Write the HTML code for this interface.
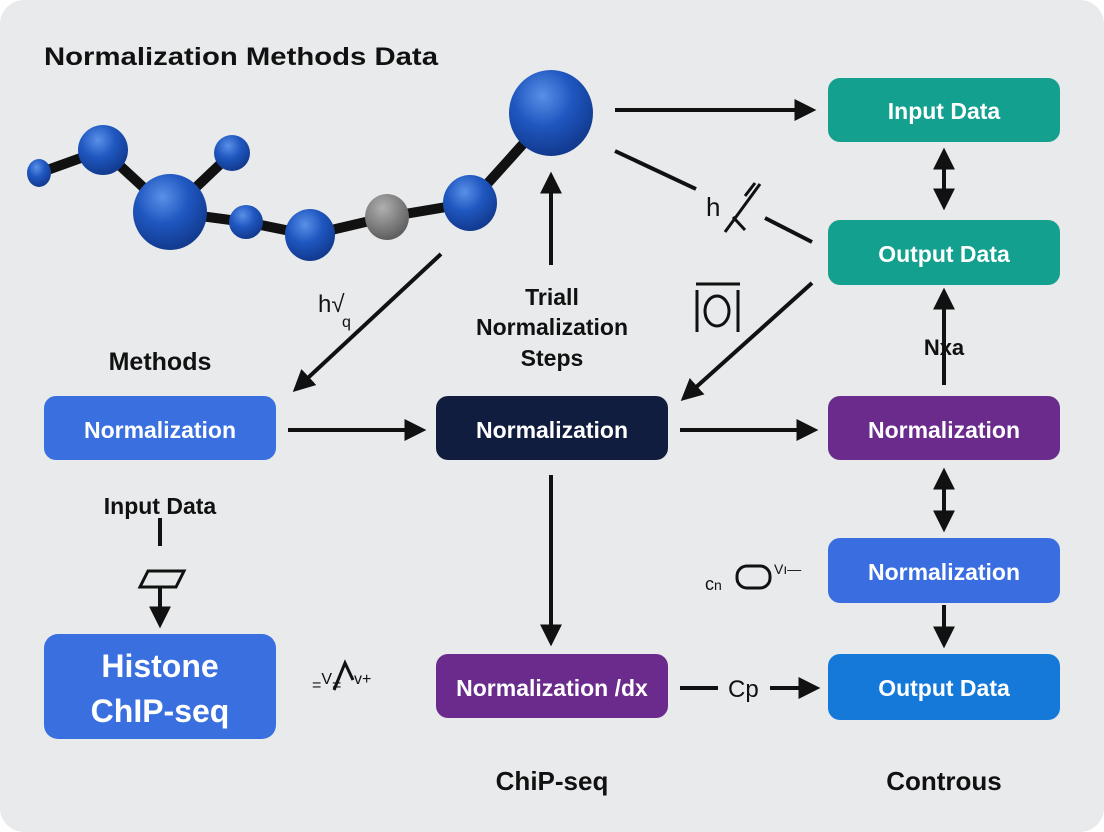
<!DOCTYPE html>
<html><head><style>
html,body{margin:0;padding:0;background:#fff;}
svg{display:block;font-family:"Liberation Sans",sans-serif;}
</style></head><body>
<svg width="1104" height="832" viewBox="0 0 1104 832" xmlns="http://www.w3.org/2000/svg">
<defs>
<radialGradient id="b" cx="0.4" cy="0.3" r="0.7"><stop offset="0" stop-color="#5a90e8"/><stop offset="0.5" stop-color="#1f57c0"/><stop offset="1" stop-color="#123a8f"/></radialGradient>
<radialGradient id="g" cx="0.4" cy="0.3" r="0.7"><stop offset="0" stop-color="#b0b0b0"/><stop offset="1" stop-color="#5e5e5e"/></radialGradient>
<marker id="ah" viewBox="0 0 10 10" markerWidth="22" markerHeight="22" refX="8" refY="5" orient="auto-start-reverse" markerUnits="userSpaceOnUse"><path d="M0,0 L10,5 L0,10 z" fill="#111"/></marker>
</defs>
<rect x="0" y="0" width="1104" height="832" rx="24" fill="#e8eaec"/>
<text x="44" y="65" font-size="25" font-weight="bold" fill="#111" textLength="394" lengthAdjust="spacingAndGlyphs">Normalization Methods Data</text>
<g stroke="#111" stroke-width="10" fill="none" stroke-linecap="round">
<polyline points="39,173 103,150 170,212 246,222 310,235 387,217 470,203 551,113"/>
<line x1="170" y1="212" x2="232" y2="153"/>
</g>
<ellipse cx="39" cy="173" rx="12" ry="14" fill="url(#b)"/>
<ellipse cx="103" cy="150" rx="25" ry="25" fill="url(#b)"/>
<ellipse cx="170" cy="212" rx="37" ry="38" fill="url(#b)"/>
<ellipse cx="232" cy="153" rx="18" ry="18" fill="url(#b)"/>
<ellipse cx="246" cy="222" rx="17" ry="17" fill="url(#b)"/>
<ellipse cx="310" cy="235" rx="25" ry="26" fill="url(#b)"/>
<ellipse cx="387" cy="217" rx="22" ry="23" fill="url(#g)"/>
<ellipse cx="470" cy="203" rx="27" ry="28" fill="url(#b)"/>
<ellipse cx="551" cy="113" rx="42" ry="43" fill="url(#b)"/>
<g stroke="#111" stroke-width="4" fill="none">
<line x1="441" y1="254" x2="296" y2="389" marker-end="url(#ah)"/>
<line x1="551" y1="265" x2="551" y2="176" marker-end="url(#ah)"/>
<line x1="615" y1="110" x2="812" y2="110" marker-end="url(#ah)"/>
<line x1="615" y1="151" x2="696" y2="189"/>
<line x1="765" y1="218" x2="812" y2="242"/>
<line x1="812" y1="283" x2="684" y2="398" marker-end="url(#ah)"/>
<line x1="944" y1="152" x2="944" y2="206" marker-start="url(#ah)" marker-end="url(#ah)"/>
<line x1="944" y1="385" x2="944" y2="292" marker-end="url(#ah)"/>
<line x1="288" y1="430" x2="422" y2="430" marker-end="url(#ah)"/>
<line x1="680" y1="430" x2="814" y2="430" marker-end="url(#ah)"/>
<line x1="944" y1="472" x2="944" y2="528" marker-start="url(#ah)" marker-end="url(#ah)"/>
<line x1="944" y1="605" x2="944" y2="644" marker-end="url(#ah)"/>
<line x1="551" y1="475" x2="551" y2="642" marker-end="url(#ah)"/>
<line x1="680" y1="688" x2="718" y2="688"/>
<line x1="770" y1="688" x2="816" y2="688" marker-end="url(#ah)"/>
<line x1="160" y1="518" x2="160" y2="546"/>
<line x1="160" y1="588" x2="160" y2="624" marker-end="url(#ah)"/>
</g>
<g stroke="#111" stroke-width="3" fill="none">
<line x1="725" y1="232" x2="760" y2="184"/>
<line x1="745" y1="196" x2="755" y2="183"/>
<line x1="733" y1="217" x2="745" y2="230"/>
<polygon points="148,571 184,571 176,587 140,587"/>
<line x1="696" y1="284" x2="740" y2="284"/>
<line x1="697" y1="290" x2="697" y2="332"/>
<line x1="738" y1="290" x2="738" y2="332"/>
<ellipse cx="717" cy="311" rx="12" ry="15"/>
<rect x="737" y="566" width="33" height="22" rx="10"/>
<polyline points="334,690 345,663 353,680"/>
</g>
<text x="706" y="216" font-size="26" fill="#111">h</text>
<text x="318" y="312" font-size="24" fill="#111">h√</text>
<text x="342" y="327" font-size="16" fill="#111">q</text>
<text x="705" y="590" font-size="18" fill="#111">c<tspan font-size="14">n</tspan></text>
<text x="774" y="574" font-size="14" fill="#111">Vı—</text>
<text x="312" y="690" font-size="16" fill="#111">=<tspan dy="-6">V</tspan><tspan dy="6">=</tspan></text>
<text x="354" y="684" font-size="16" fill="#111">v+</text>
<text x="728" y="697" font-size="24" fill="#111">Cp</text>
<text x="944" y="355" font-size="22" font-weight="bold" text-anchor="middle" fill="#111">Nxa</text>
<text x="160" y="370" font-size="25" font-weight="bold" text-anchor="middle" fill="#111">Methods</text>
<g font-size="23" font-weight="bold" text-anchor="middle" fill="#111">
<text x="552" y="305">Triall</text>
<text x="552" y="335">Normalization</text>
<text x="552" y="366">Steps</text>
<text x="160" y="514">Input Data</text>
</g>
<text x="552" y="790" font-size="26" font-weight="bold" text-anchor="middle" fill="#111">ChiP-seq</text>
<text x="944" y="790" font-size="26" font-weight="bold" text-anchor="middle" fill="#111">Controus</text>
<g font-size="23" font-weight="bold" fill="#fff" text-anchor="middle">
<rect x="828" y="78" width="232" height="64" rx="12" fill="#14a08f"/><text x="944" y="119">Input Data</text>
<rect x="828" y="220" width="232" height="65" rx="12" fill="#14a08f"/><text x="944" y="262">Output Data</text>
<rect x="44" y="396" width="232" height="64" rx="12" fill="#3a6fe0"/><text x="160" y="438">Normalization</text>
<rect x="436" y="396" width="232" height="64" rx="12" fill="#111d3e"/><text x="552" y="438">Normalization</text>
<rect x="828" y="396" width="232" height="64" rx="12" fill="#6a2b8c"/><text x="944" y="438">Normalization</text>
<rect x="828" y="538" width="232" height="65" rx="12" fill="#3a6ee0"/><text x="944" y="580">Normalization</text>
<rect x="828" y="654" width="232" height="66" rx="12" fill="#1479d8"/><text x="944" y="696">Output Data</text>
<rect x="436" y="654" width="232" height="64" rx="12" fill="#6a2b8c"/><text x="552" y="696">Normalization /dx</text>
<rect x="44" y="634" width="232" height="105" rx="14" fill="#3a6fe0"/>
<text x="160" y="677" font-size="32">Histone</text>
<text x="160" y="722" font-size="32">ChIP-seq</text>
</g>
</svg>
</body></html>
